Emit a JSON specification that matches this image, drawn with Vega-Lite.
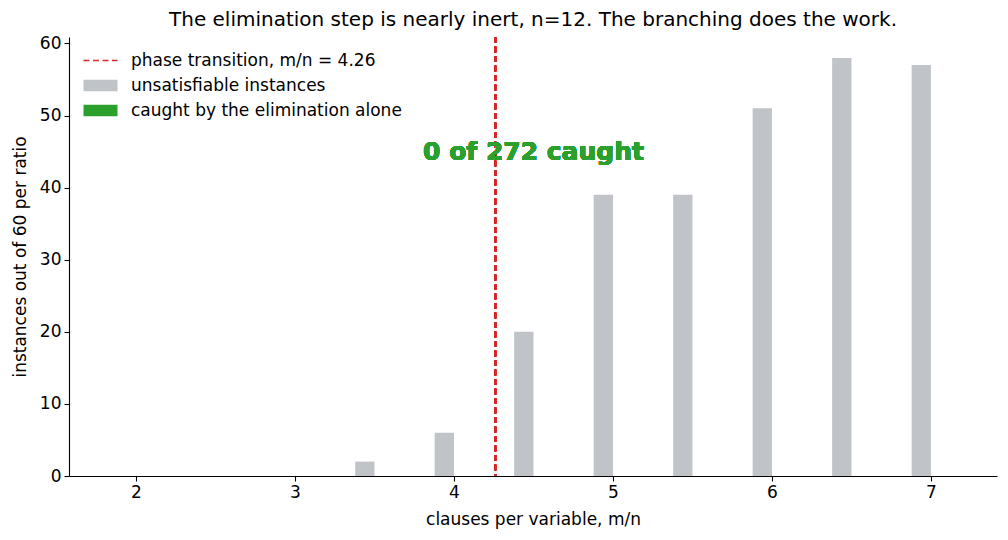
{
  "$schema": "https://vega.github.io/schema/vega-lite/v6.json",
  "width": 928,
  "height": 439,
  "autosize": "none",
  "padding": {"left": 69, "top": 37, "right": 11, "bottom": 64},
  "background": "white",
  "config": {
    "font": "DejaVu Sans",
    "view": {"stroke": null},
    "axis": {
      "grid": false,
      "domainColor": "black",
      "tickColor": "black",
      "labelColor": "black",
      "titleColor": "black",
      "labelFont": "DejaVu Sans",
      "titleFont": "DejaVu Sans",
      "labelFontSize": 17,
      "titleFontSize": 17,
      "titleFontWeight": "normal",
      "tickSize": 5,
      "labelPadding": 3,
      "domainWidth": 1.1,
      "tickWidth": 1.1
    },
    "legend": {"labelFont": "DejaVu Sans"},
    "title": {"font": "DejaVu Sans", "fontSize": 20, "fontWeight": "normal", "color": "black"}
  },
  "title": {"text": "The elimination step is nearly inert, n=12. The branching does the work.", "offset": 4},
  "data": {
    "values": [
      {"ratio": 2.0, "series": "unsatisfiable instances", "count": 0},
      {"ratio": 2.5, "series": "unsatisfiable instances", "count": 0},
      {"ratio": 3.0, "series": "unsatisfiable instances", "count": 0},
      {"ratio": 3.5, "series": "unsatisfiable instances", "count": 2},
      {"ratio": 4.0, "series": "unsatisfiable instances", "count": 6},
      {"ratio": 4.5, "series": "unsatisfiable instances", "count": 20},
      {"ratio": 5.0, "series": "unsatisfiable instances", "count": 39},
      {"ratio": 5.5, "series": "unsatisfiable instances", "count": 39},
      {"ratio": 6.0, "series": "unsatisfiable instances", "count": 51},
      {"ratio": 6.5, "series": "unsatisfiable instances", "count": 58},
      {"ratio": 7.0, "series": "unsatisfiable instances", "count": 57},
      {"ratio": 2.0, "series": "caught by the elimination alone", "count": 0},
      {"ratio": 2.5, "series": "caught by the elimination alone", "count": 0},
      {"ratio": 3.0, "series": "caught by the elimination alone", "count": 0},
      {"ratio": 3.5, "series": "caught by the elimination alone", "count": 0},
      {"ratio": 4.0, "series": "caught by the elimination alone", "count": 0},
      {"ratio": 4.5, "series": "caught by the elimination alone", "count": 0},
      {"ratio": 5.0, "series": "caught by the elimination alone", "count": 0},
      {"ratio": 5.5, "series": "caught by the elimination alone", "count": 0},
      {"ratio": 6.0, "series": "caught by the elimination alone", "count": 0},
      {"ratio": 6.5, "series": "caught by the elimination alone", "count": 0},
      {"ratio": 7.0, "series": "caught by the elimination alone", "count": 0}
    ]
  },
  "layer": [
    {
      "transform": [{"filter": "datum.series === 'unsatisfiable instances'"}],
      "mark": {"type": "bar", "width": 19.3, "xOffset": -9.65, "opacity": 1},
      "encoding": {
        "x": {
          "field": "ratio", "type": "quantitative",
          "scale": {"domain": [1.61, 7.384], "nice": false, "zero": false},
          "axis": {"values": [2, 3, 4, 5, 6, 7], "format": "d", "title": "clauses per variable, m/n", "titlePadding": 11}
        },
        "y": {
          "field": "count", "type": "quantitative",
          "scale": {"domain": [0, 60.9], "nice": false},
          "axis": {"values": [0, 10, 20, 30, 40, 50, 60], "format": "d", "title": "instances out of 60 per ratio", "titlePadding": 10}
        },
        "color": {
          "field": "series", "type": "nominal",
          "scale": {
            "domain": ["phase transition, m/n = 4.26", "unsatisfiable instances", "caught by the elimination alone"],
            "range": ["#d62728", "#c0c3c7", "#2ca02c"]
          },
          "legend": {
            "title": null,
            "orient": "none",
            "legendX": 23,
            "legendY": 15,
            "labelFontSize": 17,
            "labelColor": "black",
            "labelLimit": 500,
            "symbolSize": 1156,
            "rowPadding": 7,
            "labelOffset": 22,
            "symbolOpacity": 1,
            "symbolStrokeWidth": 0,
            "encode": {
              "symbols": {
                "update": {
                  "shape": {"signal": "datum.index === 0 ? 'M-1,0H1' : 'M-1,-0.34H1V0.34H-1Z'"},
                  "stroke": {"signal": "datum.index === 0 ? '#d62728' : 'transparent'"},
                  "strokeWidth": {"signal": "datum.index === 0 ? 1.6 : 0"},
                  "strokeDash": {"signal": "datum.index === 0 ? [6, 3.5] : [1, 0]"},
                  "fill": {"signal": "datum.index === 0 ? 'transparent' : scale('color', datum.value)"}
                }
              }
            }
          }
        }
      }
    },
    {
      "transform": [{"filter": "datum.series === 'caught by the elimination alone'"}],
      "mark": {"type": "bar", "width": 19.3, "xOffset": 9.65},
      "encoding": {
        "x": {"field": "ratio", "type": "quantitative"},
        "y": {"field": "count", "type": "quantitative"},
        "color": {"field": "series", "type": "nominal"}
      }
    },
    {
      "mark": {"type": "rule", "color": "#d62728", "strokeDash": [6, 3.5], "strokeWidth": 1.6},
      "encoding": {"x": {"datum": 4.26}}
    },
    {
      "mark": {"type": "text", "text": "0 of 272 caught", "font": "DejaVu Sans", "fill": "#2ca02c", "stroke": null, "fontWeight": "bold", "fontSize": 25, "align": "center", "baseline": "middle"},
      "encoding": {"x": {"datum": 4.5}, "y": {"datum": 45}}
    }
  ]
}
